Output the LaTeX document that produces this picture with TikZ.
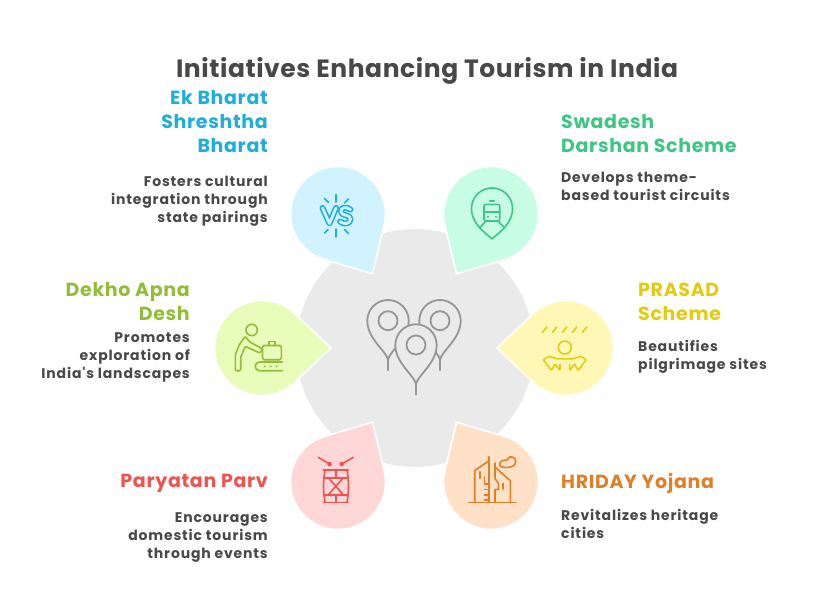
\documentclass[tikz,border=0pt]{standalone}
\usepackage{fontspec}
\setmainfont{Poppins}
\newfontfamily\titlefont[LetterSpace=2.3]{Poppins}
\newfontfamily\headfont[LetterSpace=3.5]{Poppins}
\newfontfamily\bodyfont[LetterSpace=6]{Poppins}
\definecolor{inktext}{HTML}{484848}
\definecolor{hubfill}{HTML}{EAEAEA}
\definecolor{hubline}{HTML}{969696}
\definecolor{bluetext}{HTML}{1EAEDB}
\definecolor{bluefill}{HTML}{D1F3FF}
\definecolor{greentext}{HTML}{3CC583}
\definecolor{greenfill}{HTML}{C7FDE5}
\definecolor{limetext}{HTML}{92BD39}
\definecolor{limefill}{HTML}{E8FDB9}
\definecolor{yellowtext}{HTML}{E2CC12}
\definecolor{yellowfill}{HTML}{FFF7B5}
\definecolor{redtext}{HTML}{EF5350}
\definecolor{redfill}{HTML}{FFD7D7}
\definecolor{orangetext}{HTML}{E07F27}
\definecolor{orangefill}{HTML}{FFE1C8}
\tikzset{
  titletext/.style={font=\titlefont\fontsize{25}{28}\selectfont\bfseries,text=inktext},
  headtext/.style={font=\headfont\fontsize{19}{24}\selectfont\bfseries},
  bodytext/.style={font=\bodyfont\fontsize{14}{18}\selectfont\bfseries,text=inktext},
  lefttext/.style={anchor=east,align=right,inner sep=0pt},
  righttext/.style={anchor=west,align=left,inner sep=0pt},
  icon/.style={line width=1.6pt,line cap=round,line join=round},
}
\newcommand{\tipdrop}[3]{%
  \draw[draw=white,line width=1.6pt,fill=#3] ([shift={(#2:69)}]#1)
    -- ([shift={(#2+46:47.5)}]#1)
    arc[start angle=#2+46,end angle=#2+314,radius=47.5] -- cycle;
}
\newcommand{\mappin}[3]{%
  \draw[icon,line width=1.8pt,draw=hubline,fill=hubfill] (#1,#2+39) .. controls (#1-2,#2+30) and (#1-20.7,#2+18) .. (#1-20.7,#2)
    arc[start angle=180,end angle=360,radius=20.7]
    .. controls (#1+20.7,#2+18) and (#1+2,#2+30) .. (#1,#2+39) -- (#1,#2+#3);
  \draw[icon,line width=1.8pt,draw=hubline] (#1,#2) circle (9.5);
}
\begin{document}
\begin{tikzpicture}[x=1pt,y=1pt,yscale=-1]
\useasboundingbox (0,0) rectangle (828,613);
\fill[hubfill] (415,348) circle (119);

\tipdrop{338,214}{60}{bluefill}
\tipdrop{491,214}{120}{greenfill}
\tipdrop{262,348}{0}{limefill}
\tipdrop{566,348}{180}{yellowfill}
\tipdrop{338,482}{300}{redfill}
\tipdrop{491,482}{240}{orangefill}

% hub
\mappin{388}{320.7}{49.5}
\mappin{440}{320.7}{49.5}
\mappin{416}{345}{49.5}

% vs
\begin{scope}[icon,draw=bluetext]
  \foreach \a/\b/\c/\d in {336/194.5/336/202, 336/229/336/237, 324.5/198.5/328.5/202.5, 348.5/199/344.5/203, 324.5/233/328/229.5, 348.5/233.5/344.5/229.5}
    \draw (\a,\b) -- (\c,\d);
  \draw[line width=6pt] (322.5,208) -- (329.5,223.5) -- (336,208);
  \draw[line width=2.8pt,draw=bluefill] (322.5,208) -- (329.5,223.5) -- (336,208);
  \draw[line width=6pt] (350.5,209.5) .. controls (345,206) and (340.5,207.5) .. (341,212) .. controls (341.5,216) and (350.5,214.5) .. (350.5,219) .. controls (350.5,224) and (344,225) .. (340,221.5);
  \draw[line width=2.8pt,draw=bluefill] (350.5,209.5) .. controls (345,206) and (340.5,207.5) .. (341,212) .. controls (341.5,216) and (350.5,214.5) .. (350.5,219) .. controls (350.5,224) and (344,225) .. (340,221.5);
\end{scope}

% train
\begin{scope}[icon,draw=greentext]
  \draw (492,239) .. controls (490,236) and (471.5,226) .. (471.5,208.5)
    arc[start angle=180,end angle=360,radius=20.5]
    .. controls (512.5,226) and (494,236) .. (492,239);
  \draw[rounded corners=2pt] (484,204.3) rectangle (499.7,221);
  \draw (484,211.7) -- (499.7,211.7);
  \draw (489.7,200.7) -- (494.3,200.7);
  \draw (486,221) -- (479.5,228);
  \draw (498,221) -- (504.5,228);
  \fill[greentext] (488,216.7) circle (1.1) (496,216.7) circle (1.1);
\end{scope}

% traveller
\begin{scope}[icon,draw=limetext]
  \draw (251.7,330) circle (5.7);
  \draw[rounded corners=1.2pt] (245.3,336.3) -- (239.7,344) -- (235.3,354.7) -- (235.3,370.7) -- (240.7,370.7) -- (240.7,357.3) -- (245.3,346.3) -- (259.7,353) -- (262.3,349.7) -- (261,348) -- (249.7,342) -- cycle;
  \draw[rounded corners=1.5pt] (262.5,345.5) rectangle (281.3,359.7);
  \draw (268.7,345.5) -- (268.7,341.5) -- (274.7,341.5) -- (274.7,345.5);
  \draw (282.3,362) -- (259.5,362) arc[start angle=270,end angle=90,radius=4.35] -- (282.3,370.7);
  \fill[limetext] (264.7,366.3) circle (1.1) (270.7,366.3) circle (1.1) (276.7,366.3) circle (1.1);
\end{scope}

% meditation
\begin{scope}[icon,draw=yellowtext]
  \foreach \a in {542.5,552.5,562.5,572.5,582.5}
    \draw (\a,332.3) -- (\a+4.3,327);
  \draw (564.8,347.5) circle (6.5);
  \draw[rounded corners=.8pt] (560,364.5) -- (560,370.5) -- (555,364) -- (551.5,370.5) -- (543.3,359.7) -- (549,356.3) -- (556.7,358.8) -- (572.9,358.8) -- (580.6,356.3) -- (586.3,359.7) -- (578.1,370.5) -- (574.6,364) -- (569.6,370.5) -- (569.6,364.5);
\end{scope}

% drum
\begin{scope}[icon,draw=redtext]
  \draw (318.3,457.3) -- (329.5,464);
  \draw (353.3,457.3) -- (341.7,464);
  \fill[redtext] (329.5,464) circle (2.3) (341.7,464) circle (2.3);
  \draw (323.3,470) -- (348.3,470);
  \draw (323.3,502.3) -- (348.3,502.3);
  \draw (325,470) .. controls (323,482) and (323,490) .. (325,502.3);
  \draw (347,470) .. controls (349,482) and (349,490) .. (347,502.3);
  \draw (325,477.7) -- (347,477.7);
  \draw (325,494.8) -- (347,494.8);
  \draw (335.8,470) -- (335.8,477.7);
  \draw (335.8,494.8) -- (335.8,502.3);
  \draw (328.3,477.7) -- (343.3,494.8);
  \draw (343.3,477.7) -- (328.3,494.8);
\end{scope}

% city
\begin{scope}[icon,draw=orangetext]
  \draw (468.7,502.3) -- (516,502.3);
  \draw (474.7,502.3) -- (474.7,470.7) -- (489,460.7);
  \draw (489,456.7) -- (489,502.3);
  \draw (495,463) -- (495,478.5) -- (498.5,483.5) -- (498.5,489.5) -- (495,489.5) -- (495,502.3);
  \draw (495.5,467.5) -- (510.3,480.7) -- (510.3,502.3);
  \draw (480,471.7) -- (480,478.3);
  \draw (484.3,476.7) -- (484.3,484) -- (489,484);
  \draw (484.3,489.3) -- (489,489.3);
  \draw (484.3,495) -- (489,495);
  \draw (484.3,500) -- (489,500);
  \draw (502.7,483.3) -- (502.7,489);
  \draw plot[smooth cycle,tension=.8] coordinates {(499.7,464) (502.5,460.5) (507,460) (510,456.8) (515,459) (515,464) (510.5,467) (502,467)};
\end{scope}

\node[titletext] (title) at (427,70.5) {Initiatives Enhancing Tourism in India};

\node[headtext,lefttext,text=bluetext] (ekhead) at (268,121.7) {Ek Bharat\\Shreshtha\\Bharat};
\node[bodytext,lefttext] (ekbody) at (268,201) {Fosters cultural\\integration through\\state pairings};

\node[headtext,righttext,text=greentext] (swahead) at (561,133.7) {Swadesh\\Darshan Scheme};
\node[bodytext,righttext] (swabody) at (561,186.5) {Develops theme-\\based tourist circuits};

\node[headtext,lefttext,text=limetext] (dekhead) at (190,301.5) {Dekho Apna\\Desh};
\node[bodytext,lefttext] (dekbody) at (190,357.5) {Promotes\\exploration of\\India's landscapes};

\node[headtext,righttext,text=yellowtext] (prahead) at (638,301.5) {PRASAD\\Scheme};
\node[bodytext,righttext] (prabody) at (638,357) {Beautifies\\pilgrimage sites};

\node[headtext,lefttext,text=redtext] (parhead) at (268,483.7) {Paryatan Parv};
\node[bodytext,lefttext] (parbody) at (268,538) {Encourages\\domestic tourism\\through events};

\node[headtext,righttext,text=orangetext] (hrihead) at (561,483.5) {HRIDAY Yojana};
\node[bodytext,righttext] (hribody) at (561,523.5) {Revitalizes heritage\\cities};
\end{tikzpicture}
\end{document}
